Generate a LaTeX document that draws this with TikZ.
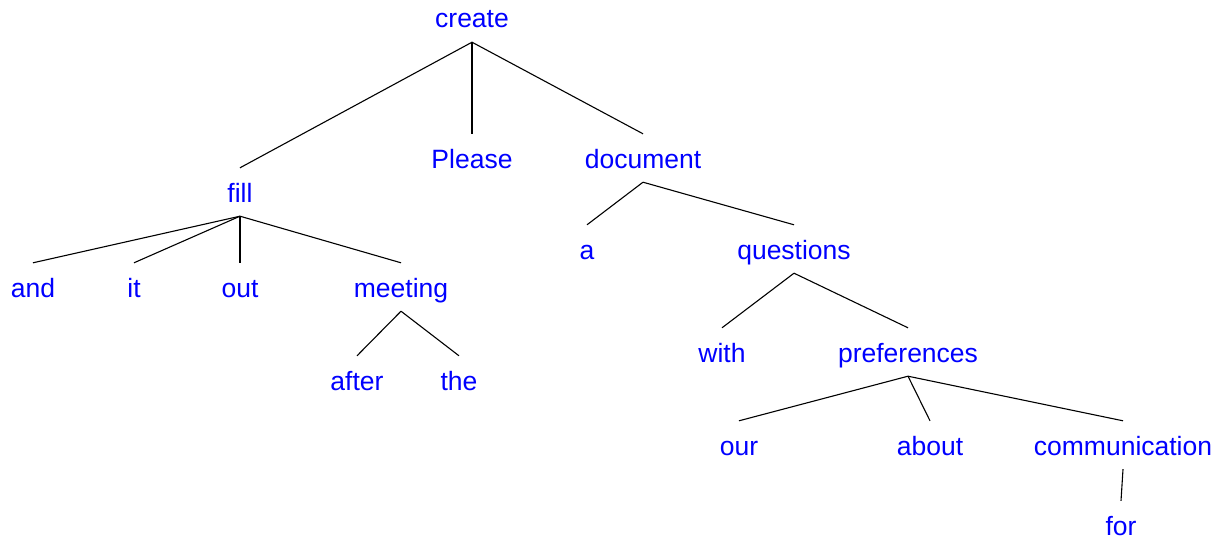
\documentclass[tikz,border=0pt]{standalone}
\usepackage{fontspec}
\setmainfont{Liberation Sans}
\begin{document}
\begin{tikzpicture}[x=1pt,y=-1pt,
  word/.style={anchor=base,inner sep=0pt,text height=34pt,text depth=14pt,
    text=blue,font=\fontsize{26.5}{30}\selectfont},
  edge/.style={draw=black,line width=1.1pt}]
\useasboundingbox (0,0) rectangle (1225,540);
\node[word] (create) at (472,28) {create};
\node[word] (fill) at (240,202) {fill};
\node[word] (please) at (472,168) {Please};
\node[word] (document) at (643,168) {document};
\node[word] (and) at (33,297) {and};
\node[word] (it) at (134,297) {it};
\node[word] (out) at (240,297) {out};
\node[word] (meeting) at (401,297) {meeting};
\node[word] (after) at (357,390) {after};
\node[word] (the) at (459,390) {the};
\node[word] (a) at (587,259) {a};
\node[word] (questions) at (794,259) {questions};
\node[word] (with) at (722,362) {with};
\node[word] (preferences) at (908,362) {preferences};
\node[word] (our) at (739,455) {our};
\node[word] (about) at (930,455) {about};
\node[word] (communication) at (1123,455) {communication};
\node[word] (for) at (1121,535) {for};
\path[edge] (create.south) -- (fill.north);
\path[edge] (create.south) -- (please.north);
\path[edge] (create.south) -- (document.north);
\path[edge] (fill.south) -- (and.north);
\path[edge] (fill.south) -- (it.north);
\path[edge] (fill.south) -- (out.north);
\path[edge] (fill.south) -- (meeting.north);
\path[edge] (meeting.south) -- (after.north);
\path[edge] (meeting.south) -- (the.north);
\path[edge] (document.south) -- (a.north);
\path[edge] (document.south) -- (questions.north);
\path[edge] (questions.south) -- (with.north);
\path[edge] (questions.south) -- (preferences.north);
\path[edge] (preferences.south) -- (our.north);
\path[edge] (preferences.south) -- (about.north);
\path[edge] (preferences.south) -- (communication.north);
\path[edge] (communication.south) -- (for.north);
\end{tikzpicture}
\end{document}
